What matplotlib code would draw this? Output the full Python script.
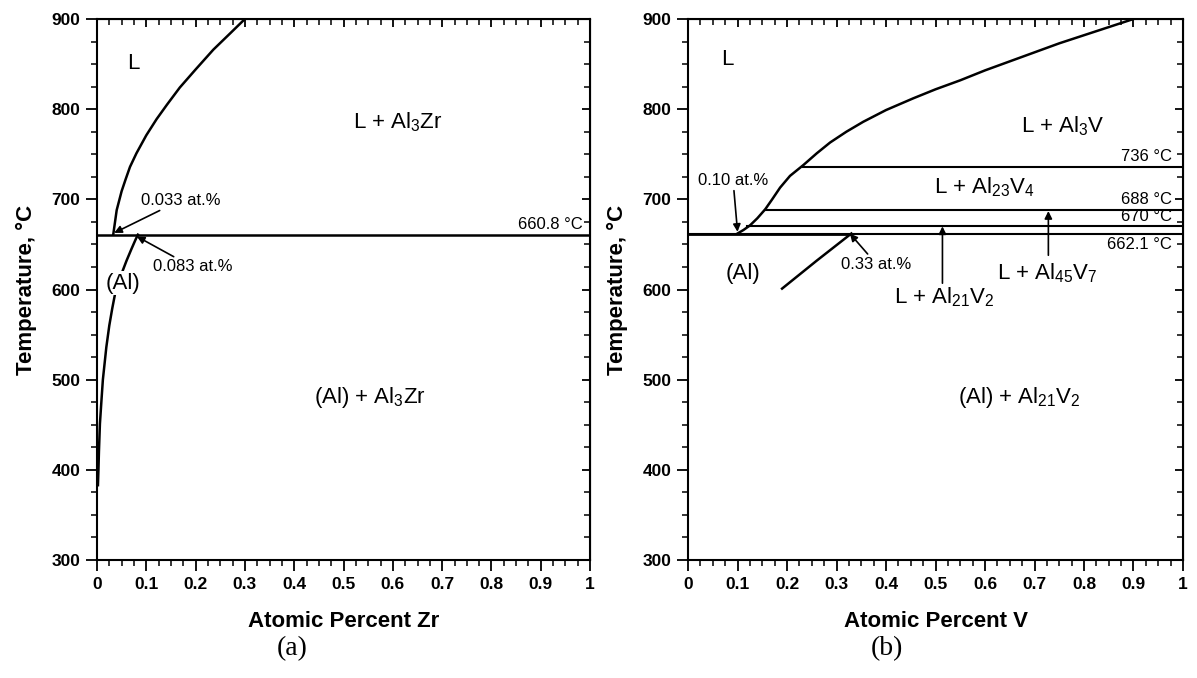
import matplotlib
matplotlib.use("Agg")
import matplotlib.pyplot as plt
from matplotlib.ticker import MultipleLocator

plt.rcParams['font.family'] = ['Liberation Sans', 'DejaVu Sans']
plt.rcParams['mathtext.default'] = 'regular'

# Al-Zr side: liquidus and (Al) solvus, peritectic at 660.8 C
zr_liq_x = [0.033, 0.040, 0.050, 0.058, 0.067, 0.080, 0.100, 0.121, 0.142, 0.168,
            0.200, 0.236, 0.270, 0.300]
zr_liq_T = [660.8, 688, 709, 722, 736, 751, 771, 789, 805, 824,
            844, 866, 884, 900]
zr_sol_x = [0.083, 0.078, 0.070, 0.060, 0.053, 0.045, 0.037, 0.031, 0.025, 0.019,
            0.012, 0.009, 0.006, 0.004, 0.003, 0.002]
zr_sol_T = [660.8, 655, 645, 632, 622, 610, 596, 579, 560, 536,
            500, 476, 451, 420, 400, 383]
zr_peritectic = 660.8

# Al-V side: liquidus, (Al) solvus and the four invariant lines
v_liq_x = [0.100, 0.112, 0.125, 0.140, 0.156, 0.170, 0.186, 0.206, 0.233, 0.260,
           0.287, 0.320, 0.354, 0.400, 0.455, 0.500, 0.550, 0.600, 0.650, 0.700,
           0.750, 0.800, 0.850, 0.900]
v_liq_T = [662.1, 666, 671, 679, 689, 700, 713, 726, 738, 751,
           763, 775, 786, 799, 812, 822, 832, 843, 853, 863,
           873, 882, 891, 900]
v_sol_x = [0.33, 0.26, 0.19]
v_sol_T = [662.1, 632, 601]
v_iso_T = [736, 688, 670, 662.1]
v_iso_start = [0.233, 0.156, 0.120, 0.0]
v_iso_labels = ['736 °C', '688 °C', '670 °C', '662.1 °C']
v_iso_label_T = [748, 700, 681, 650]

fig = plt.figure(figsize=(11.97, 6.78), dpi=100)
ax1 = fig.add_axes([0.081, 0.174, 0.412, 0.798])
ax2 = fig.add_axes([0.5748, 0.174, 0.4135, 0.798])

small = 12
big = 16
xlabels = ['0', '0.1', '0.2', '0.3', '0.4', '0.5', '0.6', '0.7', '0.8', '0.9', '1']


def style_axes(ax, xlabel):
    ax.set_xlim(0, 1)
    ax.set_ylim(300, 900)
    ax.set_xticks([i / 10 for i in range(11)])
    ax.set_xticklabels(xlabels)
    ax.xaxis.set_minor_locator(MultipleLocator(0.025))
    ax.yaxis.set_major_locator(MultipleLocator(100))
    ax.yaxis.set_minor_locator(MultipleLocator(25))
    for lab in ax.get_xticklabels() + ax.get_yticklabels():
        lab.set_fontweight('bold')
        lab.set_fontsize(12.5)
    ax.tick_params(which='major', direction='out', length=8, width=1.3, pad=4)
    ax.tick_params(which='minor', direction='out', length=4, width=1.1)
    for s in ax.spines.values():
        s.set_linewidth(1.5)
    # mirrored ticks on top and right point inward
    top = ax.secondary_xaxis('top')
    top.xaxis.set_major_locator(MultipleLocator(0.1))
    top.xaxis.set_minor_locator(MultipleLocator(0.025))
    top.tick_params(which='major', direction='in', length=6, width=1.3, labeltop=False)
    top.tick_params(which='minor', direction='in', length=4, width=1.1)
    right = ax.secondary_yaxis('right')
    right.yaxis.set_major_locator(MultipleLocator(100))
    right.yaxis.set_minor_locator(MultipleLocator(25))
    right.tick_params(which='major', direction='in', length=6, width=1.3, labelright=False)
    right.tick_params(which='minor', direction='in', length=4, width=1.1)
    ax.set_xlabel(xlabel, fontsize=big, fontweight='bold', labelpad=14)
    ax.set_ylabel('Temperature, °C', fontsize=big, fontweight='bold', labelpad=10)


arrow = dict(arrowstyle='-|>', color='k', lw=1.2, mutation_scale=11, shrinkA=0, shrinkB=0)
white = dict(facecolor='white', edgecolor='none', pad=1)

# (a) Al-Zr
style_axes(ax1, 'Atomic Percent Zr')
ax1.plot(zr_liq_x, zr_liq_T, color='k', lw=1.8)
ax1.plot(zr_sol_x, zr_sol_T, color='k', lw=1.8)
ax1.axhline(zr_peritectic, color='k', lw=1.8)
ax1.text(0.985, zr_peritectic + 3, '660.8 °C', ha='right', va='bottom', fontsize=small)
ax1.annotate('0.033 at.%', xy=(0.035, zr_peritectic + 2), xytext=(0.089, 699),
             fontsize=small, ha='left', va='center', arrowprops=arrow)
ax1.annotate('0.083 at.%', xy=(0.081, zr_peritectic - 2), xytext=(0.113, 625),
             fontsize=small, ha='left', va='center', arrowprops=arrow)
ax1.text(0.053, 607, '(Al)', fontsize=big, ha='center', va='center', bbox=white, zorder=5)
ax1.text(0.073, 851, 'L', fontsize=big, ha='center', va='center')
ax1.text(0.61, 786, 'L + Al$_3$Zr', fontsize=big, ha='center', va='center')
ax1.text(0.553, 480, '(Al) + Al$_3$Zr', fontsize=big, ha='center', va='center')

# (b) Al-V
style_axes(ax2, 'Atomic Percent V')
ax2.plot(v_liq_x, v_liq_T, color='k', lw=1.8)
ax2.plot(v_sol_x, v_sol_T, color='k', lw=1.8)
for T0, x0 in zip(v_iso_T, v_iso_start):
    ax2.plot([x0, 1], [T0, T0], color='k', lw=1.5)
ax2.plot([0, 0.33], [v_iso_T[-1], v_iso_T[-1]], color='k', lw=2)
for lab, Ty in zip(v_iso_labels, v_iso_label_T):
    ax2.text(0.977, Ty, lab, ha='right', va='center', fontsize=small)
ax2.annotate('0.10 at.%', xy=(0.1, 664), xytext=(0.02, 721),
             fontsize=small, ha='left', va='center', arrowprops=arrow)
ax2.annotate('0.33 at.%', xy=(0.327, 662), xytext=(0.31, 628),
             fontsize=small, ha='left', va='center', arrowprops=arrow)
ax2.annotate('', xy=(0.514, 670), xytext=(0.514, 607), arrowprops=arrow)
ax2.annotate('', xy=(0.728, 687), xytext=(0.728, 638), arrowprops=arrow)
ax2.text(0.517, 592, 'L + Al$_{21}$V$_2$', fontsize=big, ha='center', va='center')
ax2.text(0.725, 618, 'L + Al$_{45}$V$_7$', fontsize=big, ha='center', va='center')
ax2.text(0.598, 713, 'L + Al$_{23}$V$_4$', fontsize=big, ha='center', va='center')
ax2.text(0.758, 781, 'L + Al$_3$V', fontsize=big, ha='center', va='center')
ax2.text(0.112, 618, '(Al)', fontsize=big, ha='center', va='center')
ax2.text(0.079, 855, 'L', fontsize=big, ha='center', va='center')
ax2.text(0.67, 480, '(Al) + Al$_{21}$V$_2$', fontsize=big, ha='center', va='center')

fig.text(0.244, 0.025, '(a)', family='Liberation Serif', fontsize=20, ha='center', va='bottom')
fig.text(0.741, 0.025, '(b)', family='Liberation Serif', fontsize=20, ha='center', va='bottom')

fig.savefig('out.png', dpi=100)
